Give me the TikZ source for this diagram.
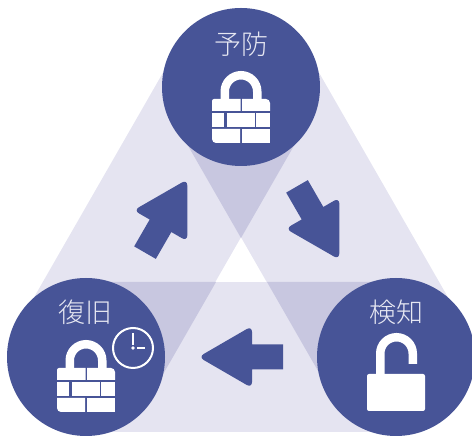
\documentclass[tikz,border=0pt]{standalone}
\usepackage{fontspec}
\newfontfamily\cjk{Noto Sans CJK JP Light}
\definecolor{phaseblue}{HTML}{475497}
\definecolor{bandlight}{HTML}{E5E4F1}
\definecolor{banddark}{HTML}{C8C7E0}
\definecolor{labelgray}{HTML}{E6E7F2}
\tikzset{
    phase/.style={circle, fill=phaseblue, minimum size=158pt, inner sep=0pt},
    phaselabel/.style={text=labelgray, font=\cjk\fontsize{27}{27}\selectfont, inner sep=0pt},
    clockface/.style={circle, draw=white, line width=2pt, minimum size=40pt, inner sep=0pt},
    pics/blockarrow/.style={code={
        \fill[phaseblue] (-40,-12.5) -- (-9,-12.5) [rounded corners=6pt] -- (-9,-31) -- (44.5,0) -- (-9,31) [sharp corners] -- (-9,12.5) -- (-40,12.5) -- cycle;
    }},
    pics/brickwall/.style={code={
        \draw[white, line width=8.5pt] (-16.25,0) -- (-16.25,7.5) arc (180:0:16.25) -- (16.25,0);
        \fill[white] (-29,-12) [rounded corners=2pt] -- (-29,0) [sharp corners] -- (-0.5,0) -- (-0.5,-12) -- cycle;
        \fill[white] (1,-12) -- (1,0) [rounded corners=4pt] -- (29,0) [sharp corners] -- (29,-12) -- cycle;
        \fill[white] (-29,-14) rectangle (-17,-28);
        \fill[white] (-14,-14) rectangle (14,-28);
        \fill[white] (15,-14) rectangle (29,-28);
        \fill[white] (-1,-30) -- (-29,-30) [rounded corners=4pt] -- (-29,-44) [sharp corners] -- (-1,-44) -- cycle;
        \fill[white] (1,-30) rectangle (29,-44);
    }},
}

\begin{document}
\begin{tikzpicture}[x=1pt, y=1pt]
    \useasboundingbox (0,0) rectangle (472,436);

    % bands between the phases
    \fill[bandlight] (306,312) -- (176,386) -- (21,116) -- (151,42) -- cycle;
    \fill[bandlight] (176,312) -- (306,386) -- (461,116) -- (331,42) -- cycle;
    \fill[bandlight] (86,154) -- (396,154) -- (396,4) -- (86,4) -- cycle;
    \fill[banddark] (241,198) -- (179,306) -- (303,306) -- cycle;
    \fill[banddark] (216,154) -- (92,154) -- (154,46) -- cycle;
    \fill[banddark] (267,154) -- (391,154) -- (329,46) -- cycle;

    \node[phase] (prevent) at (241,349) {};
    \node[phase] (recover) at (86,79) {};
    \node[phase] (detect) at (396,79) {};

    \node[phaselabel] (preventlabel) at (241,392) {予防};
    \node[phaselabel] (recoverlabel) at (85.5,124) {復旧};
    \node[phaselabel] (detectlabel) at (396.5,124) {検知};

    \pic at (241,337) {brickwall};
    \pic at (86,68) {brickwall};

    % open lock
    \draw[white, line width=8.5pt] (380.25,55) -- (380.25,82.5) arc (180:0:16.25) -- (412.75,72);
    \fill[white, rounded corners=2pt] (367,62) rectangle (425,25);

    % clock
    \node[clockface] (clock) at (133,88) {};
    \fill[white] (clock.center) circle (1.8);
    \draw[white, line width=2pt] (133,91) -- (133,103);
    \draw[white, line width=2pt] (137,88) -- (145,88);

    \pic[rotate=60] at (165,218) {blockarrow};
    \pic[rotate=-60] at (317,215) {blockarrow};
    \pic[rotate=180] at (243,79) {blockarrow};
\end{tikzpicture}
\end{document}
